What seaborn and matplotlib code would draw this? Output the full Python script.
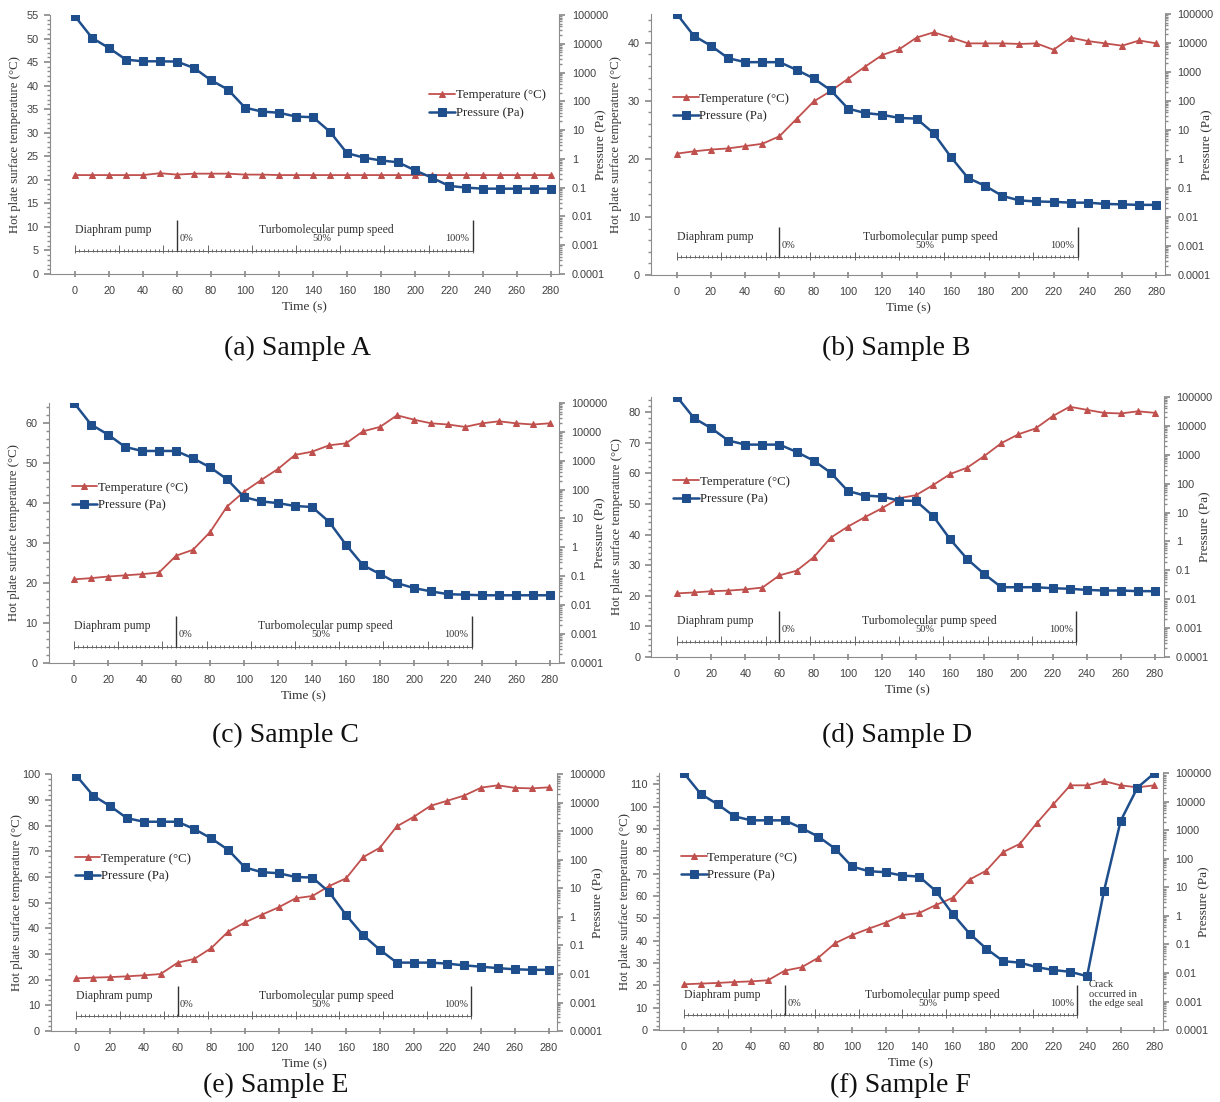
import numpy as np
import matplotlib
matplotlib.use("Agg")
import matplotlib.pyplot as plt
from matplotlib.ticker import MultipleLocator, LogLocator, NullFormatter
import seaborn as sns

# time axis (s)
time_s = [0, 10, 20, 30, 40, 50, 60, 70, 80, 90, 100, 110, 120, 130, 140,
          150, 160, 170, 180, 190, 200, 210, 220, 230, 240, 250, 260, 270, 280]

# hot plate surface temperature (°C)
temp_a = [21.0, 21.0, 21.0, 21.0, 21.0, 21.4, 21.1, 21.3, 21.3, 21.3, 21.1, 21.1, 21.0, 21.0, 21.0,
          21.0, 21.0, 21.0, 21.0, 21.0, 21.0, 21.0, 21.0, 21.0, 21.0, 21.0, 21.0, 21.0, 21.0]
temp_b = [20.9, 21.3, 21.6, 21.8, 22.2, 22.6, 23.9, 26.9, 29.9, 31.7, 33.8, 35.9, 37.9, 38.9, 40.9,
          41.8, 40.9, 39.9, 39.9, 39.9, 39.8, 39.9, 38.8, 40.9, 40.3, 39.9, 39.5, 40.4, 39.9]
temp_c = [20.9, 21.2, 21.6, 21.9, 22.2, 22.6, 26.8, 28.3, 32.7, 39.1, 42.8, 45.7, 48.5, 52.0, 52.8,
          54.4, 54.9, 57.9, 59.0, 61.9, 60.8, 59.9, 59.6, 59.0, 59.9, 60.4, 59.9, 59.6, 59.9]
temp_d = [20.8, 21.1, 21.5, 21.7, 22.1, 22.7, 26.7, 28.2, 32.6, 39.0, 42.6, 45.7, 48.6, 51.9, 52.9,
          56.2, 59.8, 61.9, 65.7, 69.9, 72.8, 74.7, 78.7, 81.8, 80.8, 79.8, 79.6, 80.3, 79.8]
temp_e = [20.5, 20.8, 21.0, 21.3, 21.7, 22.2, 26.6, 28.1, 32.3, 38.7, 42.3, 45.3, 48.2, 51.7, 52.6,
          56.5, 59.5, 67.7, 71.4, 79.7, 83.4, 87.7, 89.7, 91.7, 94.8, 95.7, 94.7, 94.5, 94.9]
temp_f = [20.5, 20.8, 21.1, 21.5, 21.8, 22.3, 26.6, 28.1, 32.4, 38.9, 42.5, 45.4, 48.1, 51.5, 52.4,
          56.0, 59.2, 67.4, 71.4, 79.7, 83.4, 92.6, 101.2, 109.6, 109.6, 111.5, 109.6, 108.7, 109.6]

# chamber pressure (Pa)
pres_a = [90000, 16000, 7100, 2800, 2460, 2460, 2400, 1440, 540, 255, 60, 44, 40, 29.5, 28,
          8.7, 1.58, 1.1, 0.88, 0.76, 0.40, 0.22, 0.115, 0.10, 0.092, 0.092, 0.092, 0.092, 0.092]
pres_b = [100000, 17400, 7900, 2960, 2150, 2150, 2150, 1170, 590, 230, 54, 38, 33, 25.6, 24.4,
          7.6, 1.17, 0.22, 0.118, 0.053, 0.037, 0.034, 0.033, 0.031, 0.031, 0.028, 0.027, 0.026, 0.026]
pres_c = [100000, 17800, 8000, 3000, 2170, 2170, 2170, 1210, 590, 228, 55, 39, 34, 27, 25,
          7.7, 1.23, 0.24, 0.12, 0.058, 0.039, 0.030, 0.024, 0.023, 0.022, 0.022, 0.022, 0.022, 0.022]
pres_d = [100000, 18300, 8300, 3100, 2240, 2240, 2240, 1250, 625, 240, 56, 38.6, 35.6, 25.9, 25.2,
          7.6, 1.18, 0.245, 0.074, 0.026, 0.026, 0.026, 0.024, 0.023, 0.021, 0.020, 0.020, 0.019, 0.019]
pres_e = [90000, 17800, 7700, 2900, 2170, 2170, 2170, 1200, 565, 225, 54, 37, 34, 25, 24,
          7.3, 1.15, 0.23, 0.07, 0.025, 0.025, 0.025, 0.023, 0.020, 0.018, 0.016, 0.0146, 0.014, 0.014]
pres_f = [100000, 18800, 8200, 3100, 2240, 2240, 2240, 1200, 600, 227, 54, 37, 34, 26, 24,
          7.4, 1.17, 0.24, 0.071, 0.026, 0.023, 0.016, 0.0127, 0.011, 0.0077, 7.2, 2150, 31500, 100000]

captions = ["(a) Sample A", "(b) Sample B", "(c) Sample C",
            "(d) Sample D", "(e) Sample E", "(f) Sample F"]
temp_top = [55, 45, 65, 85, 100, 115]
temp_step = [5, 10, 10, 10, 10, 10]
pres_ticks = [0.0001, 0.001, 0.01, 0.1, 1, 10, 100, 1000, 10000, 100000]
pres_labels = ["0.0001", "0.001", "0.01", "0.1", "1", "10", "100", "1000", "10000", "100000"]

# layout (figure fractions) and annotation placement
axes_rect = [
    [0.0406, 0.7514, 0.4180, 0.2350],
    [0.5336, 0.7505, 0.4213, 0.2370],
    [0.0398, 0.3984, 0.4180, 0.2360],
    [0.5340, 0.4038, 0.4197, 0.2360],
    [0.0418, 0.0644, 0.4148, 0.2330],
    [0.5400, 0.0653, 0.4130, 0.2330],
]
caption_xy = [(0.244, 0.684), (0.735, 0.684), (0.234, 0.333),
              (0.735, 0.333), (0.226, 0.015), (0.738, 0.015)]
legend_xy = [(0.735, 0.655), (0.033, 0.64), (0.035, 0.64),
             (0.033, 0.64), (0.037, 0.636), (0.034, 0.636)]
scale_y = [0.09, 0.067, 0.062, 0.058, 0.057, 0.058]

RED = "#C0504D"
BLUE = "#1F4E8C"
GREY = "#8C8C8C"

sns.set_theme(style="white")
plt.rcParams["font.family"] = ["Liberation Serif", "DejaVu Serif"]
plt.rcParams["axes.linewidth"] = 0.8

fig = plt.figure(figsize=(12.2, 11.02), dpi=100)
fig.patch.set_facecolor("white")

temps = [temp_a, temp_b, temp_c, temp_d, temp_e, temp_f]
press = [pres_a, pres_b, pres_c, pres_d, pres_e, pres_f]


def pump_scale(ax, yb):
    tr = ax.get_xaxis_transform()
    kw = dict(transform=tr, color="#666666", lw=0.7)
    ax.plot([0, 234], [yb, yb], **kw)
    ax.vlines(np.linspace(0, 234, 91), yb - 0.004, yb + 0.008, **kw)
    ax.vlines(np.linspace(0, 234, 10), yb - 0.01, yb + 0.022, **kw)
    ax.vlines([60, 234], yb, yb + 0.118, transform=tr, color="#333333", lw=1.0)
    ax.text(22.5, yb + 0.08, "Diaphram pump", transform=tr, ha="center", va="center",
            fontsize=8.5, color="#333333")
    ax.text(148, yb + 0.08, "Turbomolecular pump speed", transform=tr, ha="center",
            va="center", fontsize=8.5, color="#333333")
    ax.text(61.5, yb + 0.046, "0%", transform=tr, ha="left", va="center",
            fontsize=7.5, color="#333333")
    ax.text(145, yb + 0.046, "50%", transform=tr, ha="center", va="center",
            fontsize=7.5, color="#333333")
    ax.text(232, yb + 0.046, "100%", transform=tr, ha="right", va="center",
            fontsize=7.5, color="#333333")


for i in range(6):
    ax = fig.add_axes(axes_rect[i])
    ax2 = ax.twinx()

    sns.lineplot(x=time_s, y=temps[i], ax=ax, color=RED, marker="^", markersize=5,
                 markeredgecolor=RED, linewidth=1.3, label="Temperature (°C)", legend=False)
    sns.lineplot(x=time_s, y=press[i], ax=ax2, color=BLUE, marker="s", markersize=5.5,
                 markeredgecolor=BLUE, linewidth=1.8, label="Pressure (Pa)", legend=False)

    ax.set_xlim(-15, 285)
    ax.set_ylim(0, temp_top[i])
    ax.yaxis.set_major_locator(MultipleLocator(temp_step[i]))
    ax.yaxis.set_minor_locator(MultipleLocator(temp_step[i] / 5))
    ax.set_xticks(list(range(0, 281, 20)))
    ax.xaxis.set_minor_locator(MultipleLocator(10))

    ax2.set_yscale("log")
    ax2.set_ylim(1e-4, 1e5)
    ax2.set_yticks(pres_ticks, pres_labels)
    ax2.yaxis.set_minor_locator(LogLocator(base=10, subs=np.arange(2, 10)))
    ax2.yaxis.set_minor_formatter(NullFormatter())

    for a in (ax, ax2):
        a.set_facecolor("none")
        a.spines["top"].set_visible(False)
        for s in ("left", "right", "bottom"):
            a.spines[s].set_color(GREY)
        a.tick_params(which="both", colors=GREY, labelcolor="#404040",
                      labelfontfamily="Liberation Sans", labelsize=7.8)
    ax.spines["right"].set_visible(False)
    ax2.spines["left"].set_visible(False)
    ax2.spines["bottom"].set_visible(False)
    ax.tick_params(axis="x", which="both", direction="inout", length=5, pad=6)
    ax.tick_params(axis="y", which="major", direction="out", length=4, pad=4)
    ax.tick_params(axis="y", which="minor", direction="out", length=2)
    ax.tick_params(axis="y", left=True)
    ax.tick_params(axis="x", bottom=True)
    ax2.tick_params(axis="y", which="major", direction="out", length=4, pad=5, right=True)
    ax2.tick_params(axis="y", which="minor", direction="out", length=2, right=True)

    ax.set_xlabel("Time (s)", fontsize=9.5, color="#333333", labelpad=4)
    ax.set_ylabel("Hot plate surface temperature (°C)", fontsize=9.2, color="#333333")
    ax2.set_ylabel("Pressure (Pa)", fontsize=9.5, color="#333333")
    ax.yaxis.set_label_coords(-0.068, 0.5)
    ax2.yaxis.set_label_coords(1.082, 0.5)
    for lab in (ax.yaxis.label, ax2.yaxis.label):
        lab.set(ha="center", va="center", rotation=90, rotation_mode="anchor")

    pump_scale(ax, scale_y[i])

    h1, l1 = ax.get_legend_handles_labels()
    h2, l2 = ax2.get_legend_handles_labels()
    ax2.legend(h1 + h2, l1 + l2, loc="center left", bbox_to_anchor=legend_xy[i],
               frameon=False, fontsize=9.2, handlelength=2.0, handletextpad=0.05,
               labelspacing=0.45, borderaxespad=0)

    if i == 5:
        ax.text(241, 22.5, "Crack\noccurred in\nthe edge seal", ha="left", va="top",
                fontsize=7.6, color="#333333", linespacing=1.1)

    fig.text(caption_xy[i][0], caption_xy[i][1], captions[i], ha="center", va="center",
             fontsize=20, color="#111111")

fig.savefig("out.png", dpi=100, facecolor="white")
